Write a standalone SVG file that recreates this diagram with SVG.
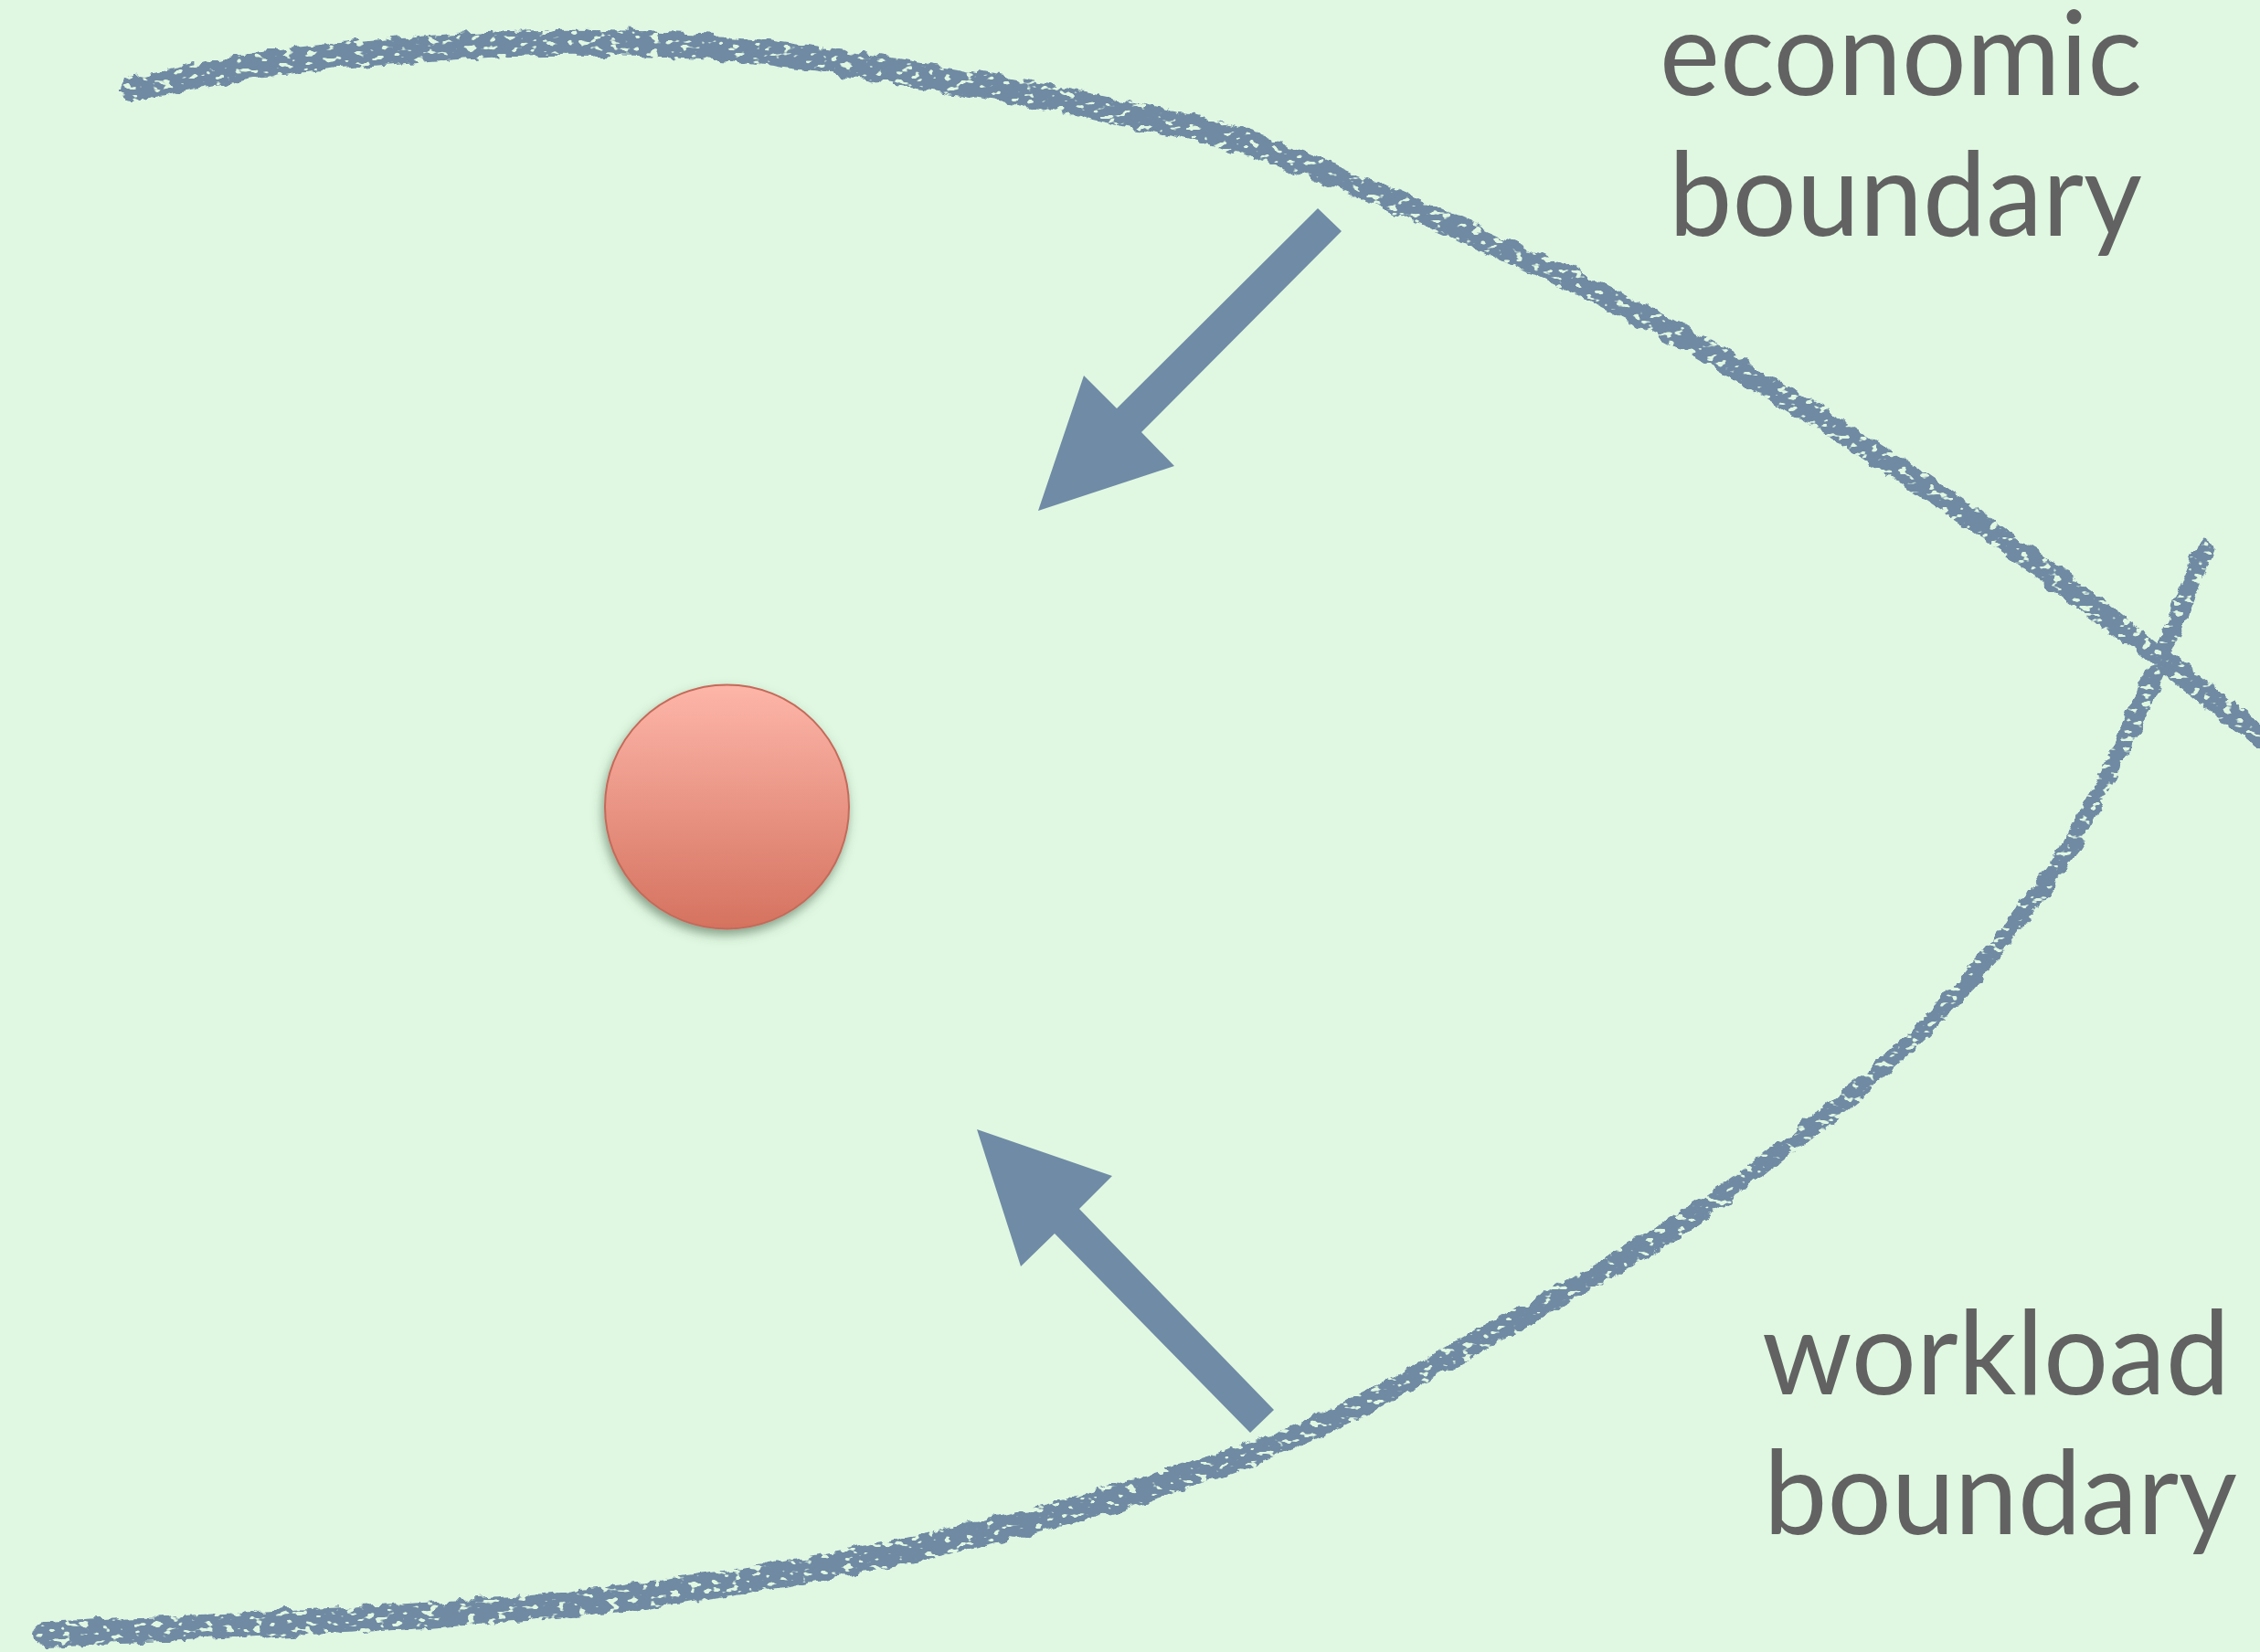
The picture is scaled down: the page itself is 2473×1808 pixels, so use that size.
<svg xmlns="http://www.w3.org/2000/svg" width="2473" height="1808" viewBox="0 0 2473 1808">
  <defs>
    <style>
      .label { font-family: "Lato", "Open Sans", "Liberation Sans", sans-serif; font-size: 128px; fill: #626262; }
      .chalk { fill: none; stroke: #6F8AA3; stroke-linecap: round; stroke-linejoin: round; filter: url(#chalk); }
      .arrow { fill: #708BA5; stroke: none; }
    </style>
    <filter id="chalk" filterUnits="userSpaceOnUse" x="0" y="0" width="2473" height="1808">
      <feTurbulence type="fractalNoise" baseFrequency="0.06" numOctaves="3" seed="3" result="n"/>
      <feDisplacementMap in="SourceGraphic" in2="n" scale="13" xChannelSelector="R" yChannelSelector="G" result="d"/>
      <feTurbulence type="fractalNoise" baseFrequency="0.09 0.16" numOctaves="2" seed="11" result="n2"/>
      <feColorMatrix in="n2" type="matrix" values="0 0 0 0 0  0 0 0 0 0  0 0 0 0 0  0 0 0 -14 9.5" result="holes"/>
      <feComposite in="d" in2="holes" operator="in"/>
    </filter>
    <linearGradient id="ballGrad" x1="0" y1="0" x2="0" y2="1">
      <stop offset="0" stop-color="#FDB6A9"/>
      <stop offset="1" stop-color="#D5725F"/>
    </linearGradient>
    <filter id="ballShadow" x="-20%" y="-20%" width="140%" height="140%">
      <feDropShadow dx="-2" dy="6" stdDeviation="6" flood-color="#3E5A40" flood-opacity="0.55"/>
    </filter>
  </defs>

  <rect x="0" y="0" width="2473" height="1808" fill="#E0F8E2"/>

  <g id="connectors">
    <g id="economic-boundary-curve">
      <path class="chalk" stroke-width="28"
        d="M145,98 C170,93 238,77.2 300,69 C362,60.8 441.7,54.7 500,51 C558.3,47.3 596.8,46.3 650,47 C703.2,47.7 759,49 819,55 C879,61 946.2,72.5 1010,83 C1073.8,93.5 1138.2,104 1202,118 C1265.8,132 1305,134.7 1393,167"/>
      <path class="chalk" stroke-width="24"
        d="M1202,118 C1265.8,132 1305,134.7 1393,167 C1481,199.3 1635.7,266.8 1730,312 C1824.3,357.2 1882.5,391.8 1959,438 C2035.5,484.2 2122.2,542.5 2189,589 C2255.8,635.5 2313.2,681 2360,717 C2406.8,753 2451.7,790.3 2470,805"/>
    </g>
    <g id="workload-boundary-curve">
      <path class="chalk" stroke-width="28"
        d="M50,1789 C140,1784 444.8,1772.8 606,1757 C767.2,1741.2 872.3,1722.8 1000,1695 C1127.7,1667.2 1263.7,1630.8 1372,1590"/>
      <path class="chalk" stroke-width="23"
        d="M1000,1695 C1127.7,1667.2 1263.7,1630.8 1372,1590 C1480.3,1549.2 1564.2,1497.3 1650,1450 C1735.8,1402.7 1810.8,1360.3 1887,1306"/>
      <path class="chalk" stroke-width="19"
        d="M1650,1450 C1735.8,1402.7 1810.8,1360.3 1887,1306 C1963.2,1251.7 2045.8,1184.7 2107,1124 C2168.2,1063.3 2214.8,1000.5 2254,942 C2293.2,883.5 2315.5,830 2342,773 C2368.5,716 2401.2,628.8 2413,600"/>
    </g>
    <polygon id="arrow-economic" class="arrow" points="1442,228 1468,253 1249,473 1285,510 1136,559 1186,411 1222,447"/>
    <polygon id="arrow-workload" class="arrow" points="1069,1236 1217,1287 1181,1323 1394,1543 1368,1568 1154,1350 1117,1386"/>
  </g>

  <g id="optimum">
    <circle cx="795.5" cy="883" r="133.5" fill="url(#ballGrad)" stroke="#C46A5A" stroke-width="2" filter="url(#ballShadow)"/>
  </g>

  <g id="label-economic">
    <text class="label" x="1816" y="104" textLength="528" lengthAdjust="spacingAndGlyphs">economic</text>
    <text class="label" x="1826" y="258" textLength="518" lengthAdjust="spacingAndGlyphs">boundary</text>
  </g>

  <g id="label-workload">
    <text class="label" x="1928" y="1526" textLength="512" lengthAdjust="spacingAndGlyphs">workload</text>
    <text class="label" x="1930" y="1679" textLength="518" lengthAdjust="spacingAndGlyphs">boundary</text>
  </g>
</svg>
